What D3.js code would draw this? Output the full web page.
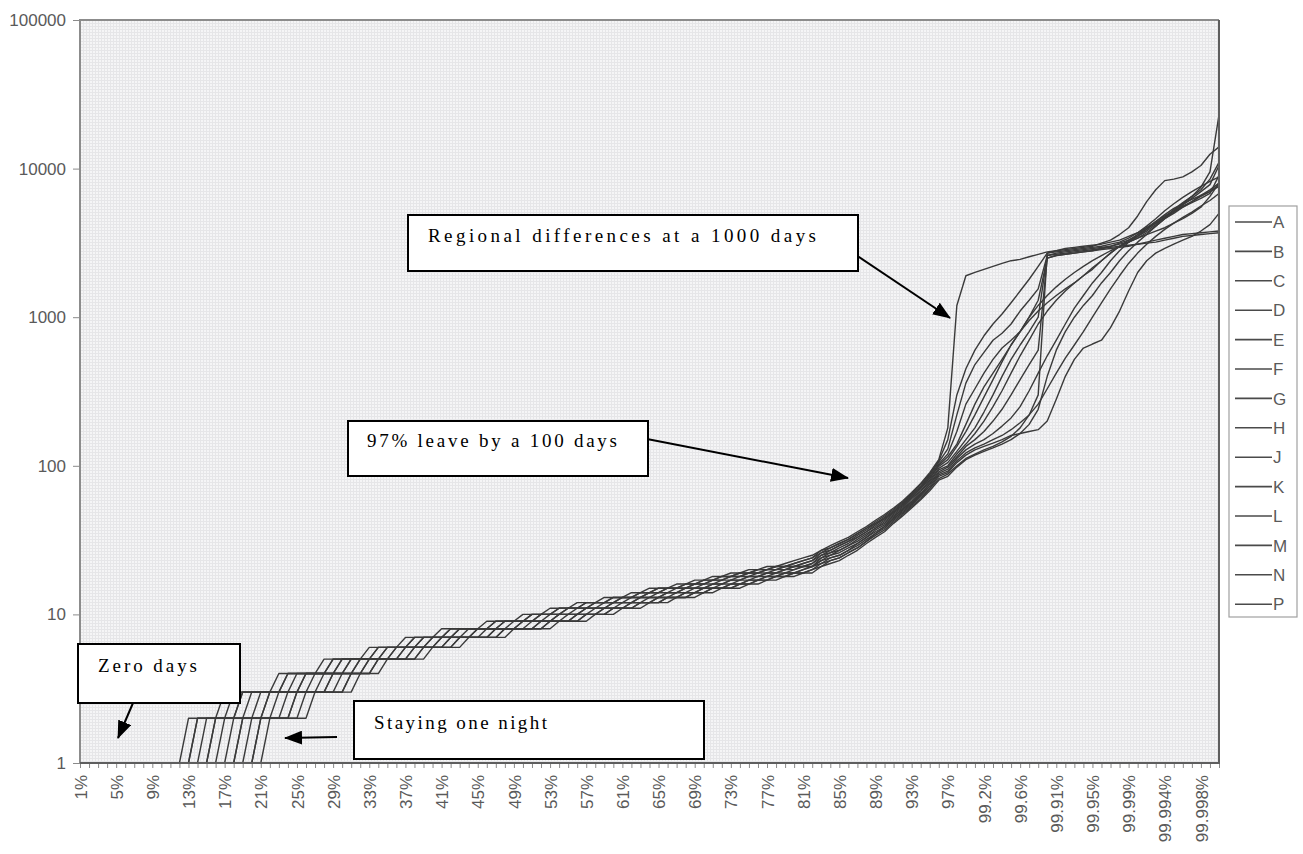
<!DOCTYPE html>
<html lang="en">
  <head>
    <meta charset='utf-8'>
    <script src='https://d3js.org/d3.v7.min.js'></script>
    <title>Length of stay by percentile, regions A-P</title>
    <style>
      body {
        margin: 0px;
        background: #fff;
        overflow: hidden;
      }
      svg {
        display: block;
      }
      .axis text {
        fill: #5a5a5a;
        font-size: 17px;
        font-family: 'Liberation Sans', Arial, sans-serif;
      }
      .axis line {
        stroke: #8a8a8a;
      }
      .axis .domain {
        display: none;
      }
      .legend-label {
        fill: #5a5a5a;
        font-size: 17px;
        font-family: 'Liberation Sans', Arial, sans-serif;
      }
      .note {
        fill: #000;
        font-size: 19px;
        font-family: 'Liberation Serif', 'Times New Roman', serif;
      }
    </style>
  </head>
  <body>
    <div id='viz'></div>
    <script>

      // percentile categories on the x axis
      const cats = ['1%','2%','3%','4%','5%','6%','7%','8%','9%','10%',
        '11%','12%','13%','14%','15%','16%','17%','18%','19%','20%',
        '21%','22%','23%','24%','25%','26%','27%','28%','29%','30%',
        '31%','32%','33%','34%','35%','36%','37%','38%','39%','40%',
        '41%','42%','43%','44%','45%','46%','47%','48%','49%','50%',
        '51%','52%','53%','54%','55%','56%','57%','58%','59%','60%',
        '61%','62%','63%','64%','65%','66%','67%','68%','69%','70%',
        '71%','72%','73%','74%','75%','76%','77%','78%','79%','80%',
        '81%','82%','83%','84%','85%','86%','87%','88%','89%','90%',
        '91%','92%','93%','94%','95%','96%','97%','98%','99%',
        '99.1%','99.2%','99.3%','99.4%','99.5%','99.6%','99.7%','99.8%','99.9%',
        '99.91%','99.92%','99.93%','99.94%','99.95%','99.96%','99.97%','99.98%','99.99%',
        '99.991%','99.992%','99.993%','99.994%','99.995%','99.996%','99.997%','99.998%','99.999%',
        '100%'];

      const yTicks = [1, 10, 100, 1000, 10000, 100000];

      const regions = ['A','B','C','D','E','F','G','H','J','K','L','M','N','P'];

      // days stayed at each percentile, one array per region
      const dataA = [1,1,1,1,1, 1,1,1,1,1, 1,1, 2,2,2,2, 3,3,3,3,3,3, 4,4,4,4,4, 5,5,5,5,5, 6,6,6,6, 7,7,7,7,
        8,8,8,8,8, 9,9,9,9, 10,10,10, 11,11,11, 12,12,12, 13,13,13, 14,14, 15,15,15,
        16,16, 17,17, 18,18, 19,19, 20,20, 21,21, 22, 23, 24, 25,
        27,29,31,33,36,39,43,47,52,58,66,76,90,110,
        180,1200,1900,2000,2100,2200,2300,2400,2450,2550,2650,2750,2800,2850,2900,2950,3000,3150,3300,3600,
        4000,4800,6000,7200,8300,8500,8800,9500,10500,12500,14000];
      const dataB = [1,1,1,1,1, 1,1,1,1,1, 1,1,1, 2,2,2,2, 3,3,3,3,3,3, 4,4,4,4,4, 5,5,5,5,5, 6,6,6,6, 7,7,7,7,
        8,8,8,8,8, 9,9,9,9, 10,10,10, 11,11,11, 12,12,12, 13,13,13, 14,14, 15,15,15,
        16,16, 17,17, 18,18, 19,19, 20,20, 21,21, 22, 23, 24,
        27,28,30,32,35,38,42,46,51,57,65,75,88,108,
        150,300,450,600,750,900,1050,1250,1500,1800,2200,2700,2800,2900,2950,3000,3050,3100,3200,3300,
        3500,3700,4000,4300,4700,5200,5800,6500,7500,9500,23000];
      const dataC = [1,1,1,1,1, 1,1,1,1,1, 1,1,1, 2,2,2,2,2, 3,3,3,3,3, 4,4,4,4,4, 5,5,5,5,5, 6,6,6,6, 7,7,7,7,
        8,8,8,8,8, 9,9,9,9, 10,10,10, 11,11,11, 12,12,12, 13,13,13, 14,14, 15,15,15,
        16,16, 17,17, 18,18, 19,19, 20,20, 21,21, 22, 23, 24,
        26,28,30,32,35,38,41,45,50,56,64,73,87,106,
        130,220,360,480,580,700,780,900,1100,1300,1550,2600,2700,2750,2800,2850,2900,2950,3000,3100,
        3200,3400,3700,4100,4600,5000,5500,6000,6600,7200,8000];
      const dataD = [1,1,1,1,1, 1,1,1,1,1, 1,1,1,1, 2,2,2,2, 3,3,3,3,3,3, 4,4,4,4,4, 5,5,5,5,5, 6,6,6,6, 7,7,7,7,
        8,8,8,8,8, 9,9,9,9, 10,10,10, 11,11,11, 12,12,12, 13,13,13, 14,14, 15,15,15,
        16,16, 17,17, 18,18, 19,19, 20,20, 21,21, 22, 23,
        26,27,29,31,34,37,41,44,49,55,63,72,85,103,
        120,170,260,330,420,520,620,700,800,1000,1300,2500,2600,2650,2700,2750,2800,2900,3000,3150,
        3300,3500,3800,4200,4700,5300,5900,6500,7200,8500,11000];
      const dataE = [1,1,1,1,1, 1,1,1,1,1, 1,1,1,1,1, 2,2,2,2, 3,3,3,3,3,3, 4,4,4,4, 5,5,5,5,5, 6,6,6,6, 7,7,7,7,
        8,8,8,8,8, 9,9,9,9, 10,10,10, 11,11,11, 12,12,12, 13,13,13, 14,14, 15,15,15,
        16,16, 17,17, 18,18, 19,19, 20,20, 21,21, 22, 23,
        25,27,29,31,33,36,40,44,49,54,62,71,83,101,
        115,140,190,260,340,420,520,650,800,1000,1200,1400,1600,1800,2000,2200,2400,2600,2800,3000,
        3200,3500,3900,4400,4900,5400,5800,6200,6600,7000,7600];
      const dataF = [1,1,1,1,1, 1,1,1,1,1, 1,1,1,1,1, 2,2,2,2,2, 3,3,3,3,3, 4,4,4,4,4, 5,5,5,5,5, 6,6,6,6, 7,7,7,7,
        8,8,8,8,8, 9,9,9,9, 10,10,10, 11,11,11, 12,12,12, 13,13,13, 14,14, 15,15,15,
        16,16, 17,17, 18,18, 19,19, 20,20, 21,21, 22,
        25,26,28,30,33,36,39,43,48,53,61,70,82,99,
        110,135,170,220,290,380,500,650,800,950,1100,1250,1400,1550,1700,1900,2150,2400,2700,3000,
        3300,3600,3900,4300,4700,5100,5500,5900,6300,6800,9000];
      const dataG = [1,1,1,1,1, 1,1,1,1,1, 1,1,1,1,1, 1, 2,2,2,2,2, 3,3,3,3,3, 4,4,4,4, 5,5,5,5,5, 6,6,6,6, 7,7,7,7,7,
        8,8,8,8,8, 9,9,9,9, 10,10,10, 11,11,11, 12,12,12, 13,13,13, 14,14, 15,15,15,
        16,16, 17,17, 18,18, 19,19, 20, 21,21, 22,
        24,26,27,29,32,35,38,42,47,52,60,68,80,96,
        105,125,150,180,230,300,400,520,650,800,1000,2600,2650,2700,2750,2800,2850,2900,2950,3000,
        3050,3100,3150,3200,3300,3400,3500,3550,3600,3650,3700];
      const dataH = [1,1,1,1,1, 1,1,1,1,1, 1,1,1,1,1, 1,1, 2,2,2,2, 3,3,3,3,3,3, 4,4,4,4, 5,5,5,5,5, 6,6,6,6, 7,7,7,7,
        8,8,8,8,8, 9,9,9,9, 10,10,10, 11,11,11, 12,12,12, 13,13,13, 14,14, 15,15,15,
        16,16, 17,17, 18,18, 19,19, 20,20, 21,21,
        24,25,27,29,31,34,38,41,46,51,58,67,78,94,
        100,120,140,165,200,250,320,420,550,700,900,1100,1300,1500,1700,1900,2100,2400,2700,3000,
        3200,3400,3600,3800,4000,4300,4600,5000,5500,6500,8000];
      const dataJ = [1,1,1,1,1, 1,1,1,1,1, 1,1,1,1,1, 1,1,1, 2,2,2,2, 3,3,3,3,3,3, 4,4,4, 5,5,5,5,5, 6,6,6,6, 7,7,7,7,7,
        8,8,8,8,8, 9,9,9,9, 10,10,10, 11,11,11, 12,12,12, 13,13,13, 14,14, 15,15,15,
        16,16, 17,17, 18,18, 19,19, 20, 21,21,
        23,25,26,28,30,33,37,40,45,51,57,65,76,91,
        98,115,135,150,170,200,240,300,380,480,600,2500,2600,2650,2700,2750,2800,2850,2900,2950,
        3000,3100,3200,3300,3400,3500,3600,3650,3700,3750,3800];
      const dataK = [1,1,1,1,1, 1,1,1,1,1, 1,1,1,1,1, 1,1,1, 2,2,2,2,2, 3,3,3,3,3, 4,4,4,4, 5,5,5,5,5, 6,6,6,6, 7,7,7,7,7,
        8,8,8,8,8, 9,9,9,9, 10,10,10, 11,11,11, 12,12,12, 13,13,13, 14,14, 15,15,15,
        16,16, 17,17, 18,18, 19,19, 20, 21,
        23,24,25,27,30,33,36,39,44,50,56,64,75,89,
        95,112,128,140,150,165,185,210,250,320,420,550,700,900,1150,1400,1700,2000,2400,2800,
        3200,3600,4000,4400,4800,5200,5600,6000,6500,7000,7800];
      const dataL = [1,1,1,1,1, 1,1,1,1,1, 1,1,1,1,1, 1,1,1,1, 2,2,2,2,2, 3,3,3,3,3, 4,4,4, 5,5,5,5,5, 6,6,6,6, 7,7,7,7,7,
        8,8,8,8,8, 9,9,9,9, 10,10,10, 11,11,11, 12,12,12, 13,13,13, 14,14, 15,15,15,
        16,16, 17,17, 18,18, 19,19, 20, 21,
        22,24,25,27,29,32,35,39,44,49,55,63,73,87,
        92,108,122,132,140,150,160,175,195,220,260,330,420,530,650,800,1000,1250,1550,1900,
        2300,2700,3100,3500,3900,4300,4700,5100,5600,6100,6800];
      const dataM = [1,1,1,1,1, 1,1,1,1,1, 1,1,1,1,1, 1,1,1,1,1, 2,2,2,2, 3,3,3,3,3,3, 4,4,4, 5,5,5,5,5, 6,6,6,6, 7,7,7,7,7,
        8,8,8,8,8, 9,9,9,9, 10,10,10, 11,11,11, 12,12,12, 13,13,13, 14,14, 15,15,15,
        16,16, 17,17, 18,18, 19,19, 20,
        22,23,24,26,28,31,35,38,43,48,54,62,71,85,
        90,105,118,128,135,142,150,160,165,170,175,200,280,400,520,620,660,700,850,1100,
        1500,2000,2400,2700,2900,3100,3300,3500,3800,4200,5000];
      const dataN = [1,1,1,1,1, 1,1,1,1,1, 1,1,1,1,1, 1,1,1,1,1, 2,2,2,2,2, 3,3,3,3,3, 4,4,4, 5,5,5,5,5, 6,6,6,6, 7,7,7,7,7,
        8,8,8,8,8, 9,9,9,9, 10,10,10, 11,11,11, 12,12,12, 13,13,13, 14,14, 15,15,15,
        16,16, 17,17, 18,18, 19,19, 20,
        21,23,24,26,28,31,34,37,42,47,53,60,70,82,
        88,100,112,120,128,135,145,158,180,220,300,2700,2750,2800,2850,2900,2950,3000,3100,3200,
        3400,3700,4100,4600,5200,5800,6400,7000,7600,8200,8800];
      const dataP = [1,1,1,1,1, 1,1,1,1,1, 1,1,1,1,1, 1,1,1,1,1, 1, 2,2,2,2,2, 3,3,3,3,3, 4,4,4, 5,5,5,5,5, 6,6,6,6, 7,7,7,7,7,
        8,8,8,8,8, 9,9,9,9, 10,10,10, 11,11,11, 12,12,12, 13,13,13, 14,14, 15,15,15,
        16,16, 17,17, 18,18, 19,19,
        21,22,23,25,27,30,33,36,41,46,52,59,68,80,
        85,98,110,118,125,132,140,150,165,190,240,400,600,800,1000,1200,1400,1700,2000,2400,
        2800,3200,3600,4100,4600,5100,5700,6300,7000,7800,10500];

      const seriesData = [dataA, dataB, dataC, dataD, dataE, dataF, dataG,
                          dataH, dataJ, dataK, dataL, dataM, dataN, dataP];

      seriesData.forEach((s, i) => {
        if (s.length !== cats.length) throw new Error('series ' + regions[i] + ' has ' + s.length);
      });

      const notes = [
        { text: 'Regional differences at a 1000 days', box: [408, 215, 450, 56], tx: 428, ty: 242, tw: 388,
          arrow: [853, 253, 950, 318] },
        { text: '97% leave by a 100 days', box: [348, 421, 300, 55], tx: 367, ty: 447, tw: 250,
          arrow: [647, 439, 848, 478] },
        { text: 'Zero days', box: [78, 644, 162, 59], tx: 98, ty: 672, tw: 99,
          arrow: [133, 703, 118, 738] },
        { text: 'Staying one night', box: [354, 701, 350, 58], tx: 374, ty: 729, tw: 173,
          arrow: [337, 737, 285, 738] }
      ];

      const margin = { left: 80, right: 84, top: 20, bottom: 91 };
      const W = 1303, H = 854;
      const innerWidth = W - margin.left - margin.right;
      const innerHeight = H - margin.top - margin.bottom;

      const svg = d3.select('#viz').append('svg')
        .attr('width', W)
        .attr('height', H);

      // fine scanned-looking grid for the plot background
      const defs = svg.append('defs');
      const pat = defs.append('pattern')
        .attr('id', 'bg-grid')
        .attr('width', 3).attr('height', 3)
        .attr('patternUnits', 'userSpaceOnUse');
      pat.append('rect').attr('width', 3).attr('height', 3).attr('fill', '#f5f5f6');
      pat.append('path').attr('d', 'M0,0.5H3M0.5,0V3')
        .attr('stroke', '#e6e6e8').attr('stroke-width', 1);

      defs.append('marker')
        .attr('id', 'head')
        .attr('viewBox', '0 0 18 14')
        .attr('markerUnits', 'userSpaceOnUse')
        .attr('markerWidth', 18).attr('markerHeight', 14)
        .attr('refX', 17).attr('refY', 7)
        .attr('orient', 'auto')
        .append('path').attr('d', 'M0,0L18,7L0,14Z').attr('fill', '#000');

      const g = svg.append('g')
        .attr('transform', `translate(${margin.left},${margin.top})`);

      const xScale = d3.scalePoint()
        .domain(cats)
        .range([0, innerWidth]);

      const yScale = d3.scaleLog()
        .domain([1, 100000])
        .range([innerHeight, 0]);

      g.append('rect')
        .attr('width', innerWidth)
        .attr('height', innerHeight)
        .attr('fill', 'url(#bg-grid)');

      const xAxis = d3.axisBottom(xScale)
        .tickSize(5)
        .tickPadding(0)
        .tickFormat((d, i) => i % 4 === 0 ? d : '');

      const yAxis = d3.axisLeft(yScale)
        .tickValues(yTicks)
        .tickFormat(d3.format('d'))
        .tickSize(7)
        .tickPadding(7);

      const xAxisG = g.append('g')
        .attr('class', 'axis')
        .attr('transform', `translate(0,${innerHeight})`)
        .call(xAxis);

      // only every fourth category carries a label
      xAxisG.selectAll('text')
        .filter(function() { return this.textContent === ''; })
        .remove();

      xAxisG.selectAll('text')
        .attr('x', 0)
        .attr('y', 0)
        .attr('dy', '0.36em')
        .attr('transform', 'translate(0,12) rotate(-90)')
        .style('text-anchor', 'end');

      g.append('g')
        .attr('class', 'axis')
        .call(yAxis);

      // the regional lines
      const line = d3.line()
        .x((d, i) => xScale(cats[i]))
        .y(d => yScale(d));

      g.selectAll('.region')
        .data(seriesData)
        .enter().append('path')
        .attr('class', 'region')
        .attr('d', line)
        .attr('fill', 'none')
        .attr('stroke', '#3a3a3a')
        .attr('stroke-width', 1.4)
        .attr('stroke-linejoin', 'round');

      // plot frame
      g.append('path')
        .attr('d', `M0,${innerHeight}V0H${innerWidth}`)
        .attr('fill', 'none')
        .attr('stroke', '#8c8c8c')
        .attr('stroke-width', 2);
      g.append('path')
        .attr('d', `M${innerWidth},0V${innerHeight}H0`)
        .attr('fill', 'none')
        .attr('stroke', '#5e5e5e')
        .attr('stroke-width', 2);

      // legend
      const legend = svg.append('g')
        .attr('transform', 'translate(1229,206)');
      legend.append('rect')
        .attr('width', 68)
        .attr('height', 411)
        .attr('fill', '#fff')
        .attr('stroke', '#a0a0a0')
        .attr('stroke-width', 1.2);
      const item = legend.selectAll('.item')
        .data(regions)
        .enter().append('g')
        .attr('class', 'item')
        .attr('transform', (d, i) => `translate(0,${16 + i * 29.4})`);
      item.append('line')
        .attr('x1', 6).attr('x2', 43)
        .attr('stroke', '#4a4a4a')
        .attr('stroke-width', 1.6);
      item.append('text')
        .attr('class', 'legend-label')
        .attr('x', 44)
        .attr('dy', '0.36em')
        .text(d => d);

      // call-out boxes and arrows
      const note = svg.selectAll('.callout')
        .data(notes)
        .enter().append('g')
        .attr('class', 'callout');
      note.append('line')
        .attr('x1', d => d.arrow[0]).attr('y1', d => d.arrow[1])
        .attr('x2', d => d.arrow[2]).attr('y2', d => d.arrow[3])
        .attr('stroke', '#000')
        .attr('stroke-width', 2)
        .attr('marker-end', 'url(#head)');
      note.append('rect')
        .attr('x', d => d.box[0]).attr('y', d => d.box[1])
        .attr('width', d => d.box[2]).attr('height', d => d.box[3])
        .attr('fill', '#fff')
        .attr('stroke', '#000')
        .attr('stroke-width', 2);
      note.append('text')
        .attr('class', 'note')
        .attr('x', d => d.tx).attr('y', d => d.ty)
        .attr('textLength', d => d.tw)
        .attr('lengthAdjust', 'spacing')
        .text(d => d.text);

    </script>
  </body>
</html>
